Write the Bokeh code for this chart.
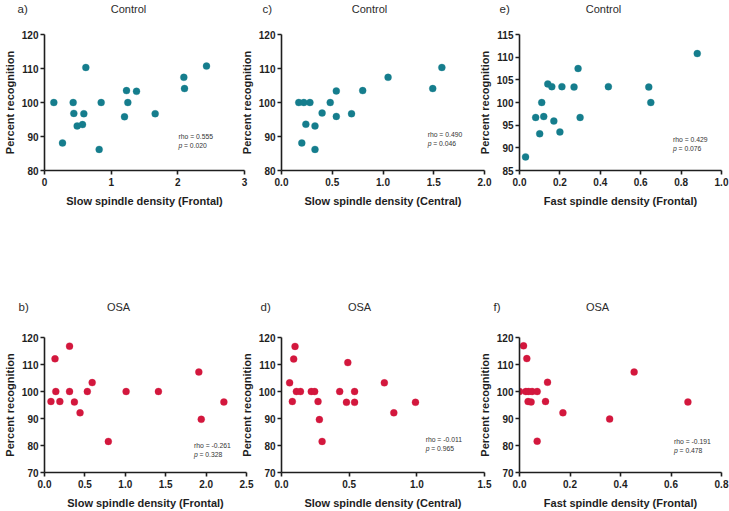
from bokeh.plotting import figure
from bokeh.models import Range1d, FixedTicker, PrintfTickFormatter, Label
from bokeh.layouts import column, row
from bokeh.embed import file_html
from bokeh.resources import INLINE

# ---------------- data ----------------
ctrl_slow_frontal_x = [0.14, 0.27, 0.43, 0.44, 0.49, 0.57, 0.59, 0.62, 0.82, 0.85, 1.20, 1.23, 1.25, 1.38, 1.66, 2.09, 2.10, 2.43]
ctrl_slow_frontal_y = [100, 88.1, 100, 96.8, 93.1, 93.5, 96.7, 110.3, 86.2, 100, 95.8, 103.5, 100, 103.3, 96.7, 107.4, 104.1, 110.7]

ctrl_slow_central_x = [0.17, 0.22, 0.28, 0.20, 0.24, 0.33, 0.33, 0.40, 0.48, 0.54, 0.54, 0.69, 0.80, 1.05, 1.49, 1.58]
ctrl_slow_central_y = [100, 100, 100, 88.1, 93.6, 93.1, 86.2, 96.9, 100, 103.4, 95.9, 96.7, 103.5, 107.4, 104.1, 110.3]

ctrl_fast_frontal_x = [0.03, 0.10, 0.08, 0.11, 0.12, 0.14, 0.16, 0.17, 0.20, 0.21, 0.27, 0.29, 0.30, 0.44, 0.64, 0.65, 0.88]
ctrl_fast_frontal_y = [88.0, 93.1, 96.7, 100, 96.9, 104.1, 103.5, 95.9, 93.5, 103.5, 103.4, 107.5, 96.7, 103.5, 103.4, 100, 110.8]

osa_slow_frontal_x = [0.08, 0.13, 0.14, 0.19, 0.31, 0.31, 0.37, 0.44, 0.53, 0.59, 0.79, 1.01, 1.41, 1.91, 1.94, 2.22]
osa_slow_frontal_y = [96.3, 112.1, 100, 96.3, 116.8, 100, 96.1, 92.1, 100, 103.3, 81.5, 100, 100, 107.2, 89.7, 96.1]

osa_slow_central_x = [0.06, 0.08, 0.09, 0.10, 0.11, 0.14, 0.22, 0.245, 0.27, 0.28, 0.30, 0.43, 0.48, 0.49, 0.54, 0.54, 0.76, 0.83, 0.99]
osa_slow_central_y = [103.2, 96.3, 112.0, 116.7, 100, 100, 100, 100, 96.3, 89.6, 81.5, 100, 96.0, 110.7, 100, 96.0, 103.2, 92.1, 96.0]

osa_fast_frontal_x = [0.0, 0.016, 0.029, 0.025, 0.036, 0.034, 0.046, 0.050, 0.070, 0.070, 0.103, 0.111, 0.172, 0.357, 0.454, 0.667]
osa_fast_frontal_y = [100, 116.9, 112.2, 100, 100, 96.3, 96.1, 100, 100, 81.6, 96.3, 103.4, 92.1, 89.8, 107.2, 96.1]

panel_letters_top = ["a)", "c)", "e)"]
panel_letters_bottom = ["b)", "d)", "f)"]
group_top = "Control"
group_bottom = "OSA"
x_labels = ["Slow spindle density (Frontal)", "Slow spindle density (Central)", "Fast spindle density (Frontal)",
            "Slow spindle density (Frontal)", "Slow spindle density (Central)", "Fast spindle density (Frontal)"]
y_label = "Percent recognition"
rho_values = ["0.555", "0.490", "0.429", "-0.261", "-0.011", "-0.191"]
p_values = ["0.020", "0.046", "0.076", "0.328", "0.965", "0.478"]

x_ticks_a = [0, 1, 2, 3]
x_ticks_c = [0.0, 0.5, 1.0, 1.5, 2.0]
x_ticks_e = [0.0, 0.2, 0.4, 0.6, 0.8, 1.0]
x_ticks_b = [0.0, 0.5, 1.0, 1.5, 2.0, 2.5]
x_ticks_d = [0.0, 0.5, 1.0, 1.5]
x_ticks_f = [0.0, 0.2, 0.4, 0.6, 0.8]
y_ticks_ctrl = [80, 90, 100, 110, 120]
y_ticks_fast = [85, 90, 95, 100, 105, 110, 115]
y_ticks_osa = [70, 80, 90, 100, 110, 120]

# ---------------- style / layout ----------------
FONT = "Liberation Sans"
TEAL = "#157d8d"
RED = "#d3173d"
INK = "#1e1e1e"
TXT = "#2b2b2b"
PAGE_W = 729


def make_panel(i, xs, ys, color, xticks, xfmt, yticks, w, h, top, bottom, left, right,
               shift, stat_fx, stat_fy):
    xr = (xticks[0], xticks[-1])
    yr = (yticks[0], yticks[-1])
    p = figure(width=w, height=h, x_range=Range1d(*xr), y_range=Range1d(*yr),
               output_backend="svg", toolbar_location=None, title=None,
               min_border_left=left, min_border_right=right,
               min_border_top=top, min_border_bottom=bottom,
               margin=(0, 0, 0, shift))
    p.outline_line_color = None
    p.grid.visible = False
    p.background_fill_color = None
    p.border_fill_color = None

    p.scatter(xs, ys, size=7, fill_color=color, line_color=color, line_width=0.3)

    p.xaxis.ticker = FixedTicker(ticks=xticks)
    p.yaxis.ticker = FixedTicker(ticks=yticks)
    p.xaxis.formatter = PrintfTickFormatter(format=xfmt)
    p.yaxis.formatter = PrintfTickFormatter(format="%d")
    p.xaxis.axis_label = x_labels[i]
    p.yaxis.axis_label = y_label
    for ax in (p.xaxis, p.yaxis):
        ax.axis_line_color = INK
        ax.axis_line_width = 1.6
        ax.major_tick_line_color = INK
        ax.major_tick_line_width = 1.6
        ax.major_tick_in = 0
        ax.major_tick_out = 4
        ax.minor_tick_line_color = None
        ax.major_label_text_font = FONT
        ax.major_label_text_font_size = "10px"
        ax.major_label_text_font_style = "bold"
        ax.major_label_text_color = INK
        ax.axis_label_text_font = FONT
        ax.axis_label_text_font_size = "11px"
        ax.axis_label_text_font_style = "bold"
        ax.axis_label_text_color = INK
    p.xaxis.major_label_standoff = 3
    p.yaxis.major_label_standoff = 2
    p.xaxis.axis_label_standoff = 6
    p.yaxis.axis_label_standoff = 3

    sx = xr[0] + stat_fx * (xr[1] - xr[0])
    sy = yr[0] + stat_fy * (yr[1] - yr[0])
    p.add_layout(Label(x=sx, y=sy, text="rho = " + rho_values[i], text_font=FONT,
                       text_font_size="6.8px", text_color="#333333",
                       text_baseline="middle", text_align="left"))
    p.add_layout(Label(x=sx, y=sy, y_offset=-9, text="p", text_font=FONT,
                       text_font_size="6.8px", text_font_style="italic", text_color="#333333",
                       text_baseline="middle", text_align="left"))
    p.add_layout(Label(x=sx, y=sy, y_offset=-9, x_offset=5.5, text="= " + p_values[i], text_font=FONT,
                       text_font_size="6.8px", text_color="#333333",
                       text_baseline="middle", text_align="left"))
    return p


def title_strip(h, letters, letter_x, group, group_x, text_y):
    s = figure(width=PAGE_W, height=h, x_range=Range1d(0, PAGE_W), y_range=Range1d(0, h),
               output_backend="svg", toolbar_location=None, title=None,
               x_axis_type=None, y_axis_type=None, min_border=0)
    s.outline_line_color = None
    s.background_fill_color = None
    s.border_fill_color = None
    for lt, lx in zip(letters, letter_x):
        s.add_layout(Label(x=lx, y=text_y, text=lt, text_font=FONT, text_font_size="11.5px",
                           text_color=TXT, text_baseline="middle", text_align="left"))
    for gx in group_x:
        s.add_layout(Label(x=gx, y=text_y, text=group, text_font=FONT, text_font_size="11px",
                           text_color=TXT, text_baseline="middle", text_align="center"))
    return s


STRIP_H = 20
TOP_H, BOT_H = 276, 195
L = 42

strip_top = title_strip(STRIP_H, panel_letters_top, [17, 262, 499], group_top, [128, 369, 603], 12)
strip_bot = title_strip(STRIP_H, panel_letters_bottom, [18, 260, 493], group_bottom, [118, 359, 597], 9.5)

pa = make_panel(0, ctrl_slow_frontal_x, ctrl_slow_frontal_y, TEAL, x_ticks_a, "%d", y_ticks_ctrl,
                252, TOP_H, 14, 126, L, 8, 0, 0.67, 0.25)
pc = make_panel(1, ctrl_slow_central_x, ctrl_slow_central_y, TEAL, x_ticks_c, "%.1f", y_ticks_ctrl,
                255, TOP_H, 14, 126, L, 8, -15, 0.72, 0.265)
pe = make_panel(2, ctrl_fast_frontal_x, ctrl_fast_frontal_y, TEAL, x_ticks_e, "%.1f", y_ticks_fast,
                254, TOP_H, 14, 126, L, 8, -17, 0.76, 0.227)
pb = make_panel(3, osa_slow_frontal_x, osa_slow_frontal_y, RED, x_ticks_b, "%.1f", y_ticks_osa,
                254, BOT_H, 21, 39, L, 8, 0, 0.74, 0.198)
pd = make_panel(4, osa_slow_central_x, osa_slow_central_y, RED, x_ticks_d, "%.1f", y_ticks_osa,
                255, BOT_H, 21, 39, L, 8, -17, 0.71, 0.242)
pf = make_panel(5, osa_fast_frontal_x, osa_fast_frontal_y, RED, x_ticks_f, "%.1f", y_ticks_osa,
                254, BOT_H, 21, 39, L, 8, -17, 0.765, 0.228)

layout = column(strip_top, row(pa, pc, pe), strip_bot, row(pb, pd, pf))

with open("out.html", "w") as f:
    f.write(file_html(layout, INLINE))
